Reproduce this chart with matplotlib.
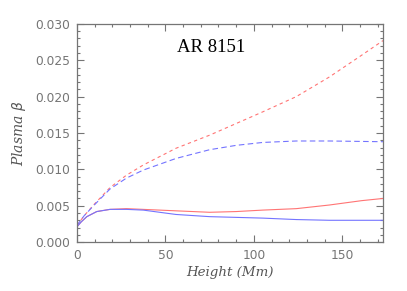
import matplotlib
matplotlib.use("Agg")
import matplotlib.pyplot as plt
from matplotlib.ticker import MultipleLocator

# Data (height in Mm, plasma beta)
h_red_dash = [0, 4, 9.4, 18.7, 28, 37.5, 56, 75, 90, 105, 124, 142.7, 161, 173]
b_red_dash = [0.0023, 0.0036, 0.0051, 0.0075, 0.0092, 0.0106, 0.0129, 0.0147, 0.0163,
              0.0179, 0.0200, 0.0227, 0.0257, 0.0277]
h_blue_dash = [0, 4, 9.4, 18.7, 28, 37.5, 56, 75, 90, 105, 124, 142.7, 173]
b_blue_dash = [0.0023, 0.0036, 0.0050, 0.0073, 0.0088, 0.0099, 0.0115, 0.0127, 0.0133,
               0.0137, 0.0139, 0.0139, 0.0138]
h_red = [0, 2.5, 5.6, 11.2, 18.7, 28, 37.5, 56, 75, 90, 105, 124, 142.7, 161, 173]
b_red = [0.0021, 0.0028, 0.0035, 0.0042, 0.0045, 0.0046, 0.0045, 0.0043, 0.0041, 0.0042,
         0.0044, 0.0046, 0.0051, 0.0057, 0.0060]
h_blue = [0, 2.5, 5.6, 11.2, 18.7, 28, 37.5, 56, 75, 90, 105, 124, 142.7, 173]
b_blue = [0.0021, 0.0028, 0.0035, 0.0042, 0.0045, 0.0045, 0.0044, 0.0038, 0.0035, 0.0034,
          0.0033, 0.0031, 0.0030, 0.0030]

red = '#ff7474'
blue = '#7474ff'
grey = '#757575'

fig = plt.figure(figsize=(4.07, 2.91), dpi=100)
ax = fig.add_axes([0.189, 0.168, 0.752, 0.750])

ax.plot(h_red_dash, b_red_dash, color=red, lw=0.8, dashes=(3, 3))
ax.plot(h_blue_dash, b_blue_dash, color=blue, lw=0.8, dashes=(5, 3))
ax.plot(h_red, b_red, color=red, lw=0.8)
ax.plot(h_blue, b_blue, color=blue, lw=0.8)

ax.set_xlim(0, 173)
ax.set_ylim(0, 0.030)
ax.xaxis.set_major_locator(MultipleLocator(50))
ax.xaxis.set_minor_locator(MultipleLocator(10))
ax.yaxis.set_major_locator(MultipleLocator(0.005))
ax.yaxis.set_minor_locator(MultipleLocator(0.001))
ax.yaxis.set_major_formatter(plt.FormatStrFormatter('%.3f'))

ax.tick_params(which='both', direction='in', top=True, right=True,
               color=grey, labelcolor=grey, labelsize=8.8, width=0.8)
ax.tick_params(which='major', length=5, pad=5)
ax.tick_params(which='minor', length=2.5)
for s in ax.spines.values():
    s.set_color(grey)
    s.set_linewidth(0.9)

ax.set_xlabel('Height (Mm)', family='DejaVu Serif', style='italic',
              fontsize=9.6, color='#555555', labelpad=3)
ax.set_ylabel(r'Plasma $\beta$', family='DejaVu Serif', style='italic',
              fontsize=10, color='#555555', labelpad=5)
ax.text(76, 0.0267, 'AR 8151', family='Liberation Serif', fontsize=13.5,
        ha='center', va='center', color='black')

fig.savefig('out.png', dpi=100)
